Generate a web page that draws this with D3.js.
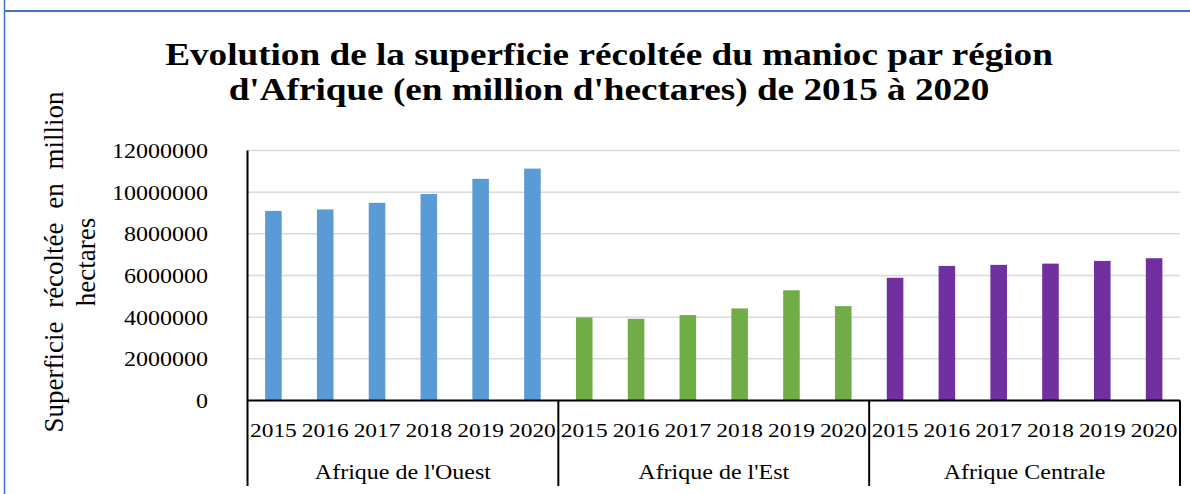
<!DOCTYPE html>
<html>
<head>
<meta charset="utf-8">
<script src="https://cdn.jsdelivr.net/npm/d3@7"></script>
<style>
  html, body { margin: 0; padding: 0; background: #ffffff; }
  svg { display: block; }
  text { font-family: "Liberation Serif", "Times New Roman", serif; fill: #000; }
</style>
</head>
<body>
<svg id="chart" width="1190" height="494"></svg>
<script>
// Harvested cassava area by African region, 2015-2020 (hectares)
const regions = ["Afrique de l'Ouest", "Afrique de l'Est", "Afrique Centrale"];
const years = ["2015", "2016", "2017", "2018", "2019", "2020"];
const ouest = [9100000, 9170000, 9490000, 9910000, 10640000, 11130000];
const est = [3990000, 3920000, 4100000, 4420000, 5290000, 4530000];
const centrale = [5890000, 6460000, 6510000, 6570000, 6700000, 6830000];
const yTicks = [0, 2000000, 4000000, 6000000, 8000000, 10000000, 12000000];
const colors = ["#5b9bd5", "#70ad47", "#7030a0"];
const titleLines = [
  "Evolution de la superficie récoltée du manioc par région",
  "d'Afrique (en million d'hectares) de 2015 à 2020"
];
const yTitleLines = ["Superficie récoltée en million", "hectares"];

const seriesByRegion = [ouest, est, centrale];
const rows = [];
regions.forEach((r, i) => {
  years.forEach((yr, j) => rows.push({ region: r, year: yr, value: seriesByRegion[i][j], color: colors[i] }));
});

const svg = d3.select("#chart");
const SX = 1.2; // horizontal glyph stretch

const plotLeft = 247.5, plotRight = 1180, plotTop = 150.5, plotBase = 400.5, tableBottom = 486;

const x0 = d3.scaleBand().domain(regions).range([plotLeft, plotRight]).paddingInner(0).paddingOuter(0);
const x1 = d3.scaleBand().domain(years).range([0, x0.bandwidth()]).paddingInner(0.68).paddingOuter(0.34);
const y = d3.scaleLinear().domain([0, 12000000]).range([plotBase, plotTop]);

function place(sel, x, yPos) {
  return sel.attr("transform", `translate(${x},${yPos}) scale(${SX},1)`);
}

// frame edges
svg.append("line").attr("x1", 4.5).attr("x2", 4.5).attr("y1", 0).attr("y2", 494)
  .attr("stroke", "#4472c4").attr("stroke-width", 1.5);
svg.append("line").attr("x1", 4).attr("x2", 1190).attr("y1", 11).attr("y2", 11)
  .attr("stroke", "#4472c4").attr("stroke-width", 2.2);

// title
titleLines.forEach((t, i) => {
  place(svg.append("text"), 609, 65 + i * 35)
    .attr("text-anchor", "middle")
    .attr("font-size", 31)
    .attr("font-weight", "bold")
    .text(t);
});

// gridlines
svg.append("g").selectAll("line").data(yTicks.filter(d => d > 0)).join("line")
  .attr("x1", plotLeft).attr("x2", plotRight)
  .attr("y1", d => y(d)).attr("y2", d => y(d))
  .attr("stroke", "#d9d9d9").attr("stroke-width", 1.5);

// y tick labels
const yAxis = d3.axisLeft(y).tickValues(yTicks).tickSize(0).tickFormat(d3.format("d"));
const gy = svg.append("g").attr("transform", `translate(${plotLeft},0)`).call(yAxis);
gy.select(".domain").remove();
gy.selectAll(".tick text")
  .attr("x", null).attr("dy", null)
  .attr("font-size", 20)
  .attr("font-family", "Liberation Serif, Times New Roman, serif")
  .attr("fill", "#000")
  .attr("text-anchor", "end")
  .each(function () {
    place(d3.select(this), 208 - plotLeft, 7);
  });

// bars
svg.append("g").selectAll("rect").data(rows).join("rect")
  .attr("x", d => x0(d.region) + x1(d.year))
  .attr("width", x1.bandwidth())
  .attr("y", d => y(d.value))
  .attr("height", d => plotBase - y(d.value))
  .attr("fill", d => d.color);

// axis and table lines
const axisG = svg.append("g").attr("stroke", "#000").attr("stroke-width", 2).attr("fill", "none");
axisG.append("line").attr("x1", plotLeft).attr("x2", plotLeft).attr("y1", plotTop).attr("y2", tableBottom);
axisG.append("line").attr("x1", plotLeft).attr("x2", plotRight).attr("y1", plotBase).attr("y2", plotBase);
regions.forEach(r => {
  const xe = x0(r) + x0.bandwidth();
  axisG.append("line").attr("x1", xe).attr("x2", xe).attr("y1", plotBase).attr("y2", tableBottom);
});

// year labels
svg.append("g").selectAll("text").data(rows).join("text")
  .attr("text-anchor", "middle")
  .attr("font-size", 19.5)
  .each(function (d) {
    place(d3.select(this), x0(d.region) + x1(d.year) + x1.bandwidth() / 2, 437);
  })
  .text(d => d.year);

// region labels
svg.append("g").selectAll("text").data(regions).join("text")
  .attr("text-anchor", "middle")
  .attr("font-size", 20)
  .each(function (d) {
    place(d3.select(this), x0(d) + x0.bandwidth() / 2, 479);
  })
  .text(d => d);

// y-axis title (two rotated lines, first one spread across its length)
const yTitleX = [63, 95];
yTitleLines.forEach((t, i) => {
  const tx = svg.append("text")
    .attr("text-anchor", "middle")
    .attr("font-size", 27)
    .attr("transform", `translate(${yTitleX[i]},262) scale(1.05,1) rotate(-90)`)
    .text(t);
  if (i === 0) tx.attr("word-spacing", 7);
});
</script>
</body>
</html>
